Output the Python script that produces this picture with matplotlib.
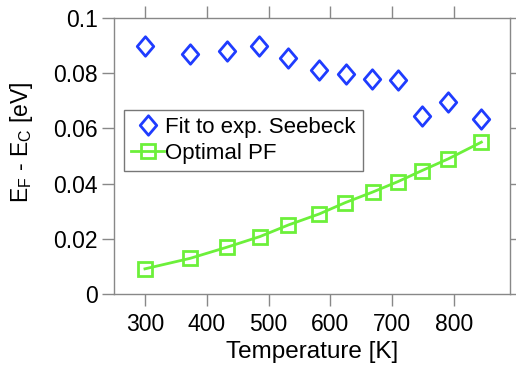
import numpy as np
import matplotlib
matplotlib.use('Agg')
import matplotlib.pyplot as plt
from matplotlib.path import Path

plt.rcParams['font.family'] = ['Liberation Sans', 'DejaVu Sans']
plt.rcParams['mathtext.fontset'] = 'custom'
plt.rcParams['mathtext.rm'] = 'Liberation Sans'
plt.rcParams['mathtext.it'] = 'Liberation Sans'

# Fit to experimental Seebeck
T_fit = [300, 373, 432, 485, 532, 582, 625, 667, 709, 748, 790, 844]
E_fit = [0.0897, 0.0869, 0.0879, 0.0897, 0.0855, 0.0810, 0.0798, 0.0780, 0.0774, 0.0643, 0.0696, 0.0634]

# Optimal power factor
T_opt = [300, 373, 432, 486, 532, 582, 624, 668, 709, 748, 790, 844]
E_opt = [0.0091, 0.0129, 0.0169, 0.0208, 0.0250, 0.0290, 0.0331, 0.0369, 0.0407, 0.0447, 0.0489, 0.0550]

blue = '#1f3cff'
green = '#6cf03a'
gray = '#888888'

diamond = Path([(0, 1), (0.85, 0), (0, -1), (-0.85, 0), (0, 1)],
               [Path.MOVETO, Path.LINETO, Path.LINETO, Path.LINETO, Path.CLOSEPOLY])

fig = plt.figure(figsize=(5.16, 3.74), dpi=100)
ax = fig.add_axes([0.221, 0.214, 0.767, 0.738])

ax.plot(T_fit, E_fit, linestyle='none', marker=diamond, markersize=14,
        markerfacecolor='none', markeredgecolor=blue, markeredgewidth=2.0,
        label='Fit to exp. Seebeck')
ax.plot(T_opt, E_opt, color=green, linewidth=2.0, marker='s', markersize=10,
        markerfacecolor='none', markeredgecolor=green, markeredgewidth=2.0,
        label='Optimal PF')

ax.set_xlim(250, 890)
ax.set_ylim(0, 0.1)
ax.set_xticks([300, 400, 500, 600, 700, 800])
ax.set_yticks([0, 0.02, 0.04, 0.06, 0.08, 0.1])
ax.set_yticklabels(['0', '0.02', '0.04', '0.06', '0.08', '0.1'])

for s in ax.spines.values():
    s.set_color(gray)
    s.set_linewidth(1.0)
ax.tick_params(direction='out', length=8.6, width=1, color=gray, labelsize=16.5,
               top=True, right=True, labeltop=False, labelright=False)
ax.tick_params(axis='x', pad=5)
ax.tick_params(axis='y', pad=3)

ax.set_xlabel('Temperature [K]', fontsize=17.5, labelpad=4)
ax.set_ylabel(r'E$_\mathregular{F}$ - E$_\mathregular{C}$ [eV]', fontsize=16.5)
ax.yaxis.set_label_coords(-0.20, 0.55)

leg = ax.legend(loc='upper left', bbox_to_anchor=(0.025, 0.668), fontsize=16,
                frameon=True, fancybox=False, handlelength=1.5, handletextpad=0.05,
                borderpad=0.32, labelspacing=0.25, borderaxespad=0)
leg.get_frame().set_edgecolor('#555555')
leg.get_frame().set_linewidth(1.0)

fig.savefig('out.png', dpi=100)
